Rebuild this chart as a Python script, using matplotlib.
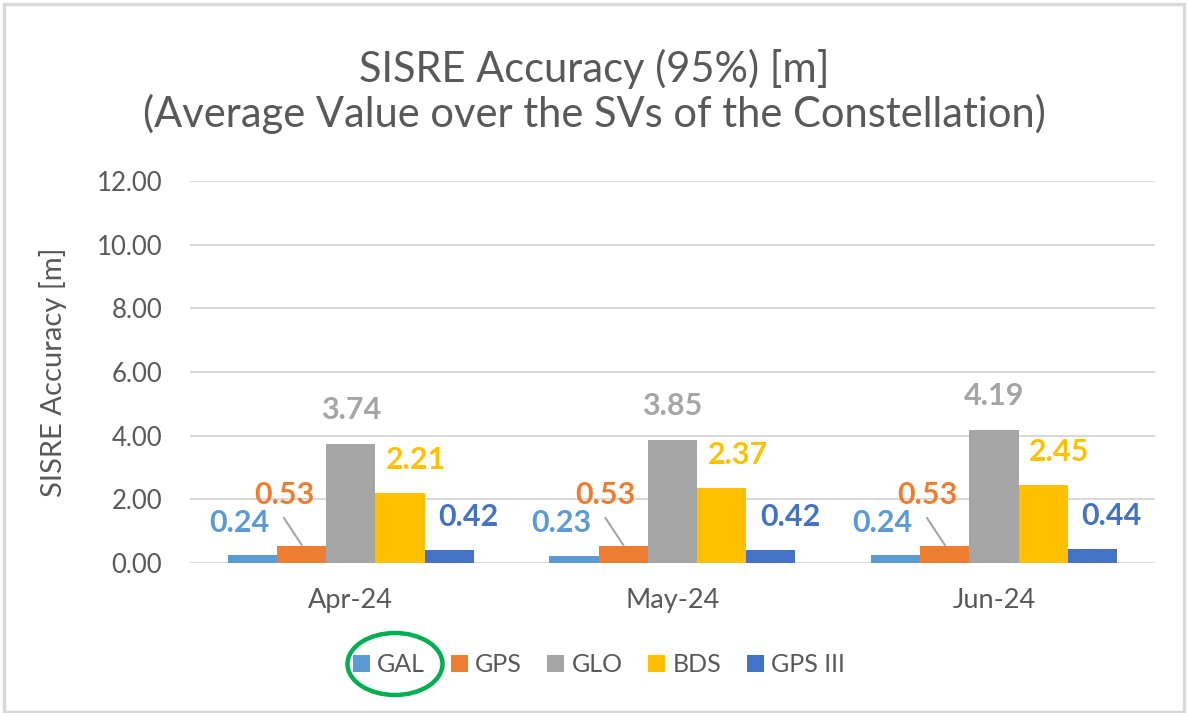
import matplotlib.pyplot as plt
import numpy as np
from matplotlib.patches import Ellipse, Rectangle

meses = ['Apr-24', 'May-24', 'Jun-24']
series = ['GAL', 'GPS', 'GLO', 'BDS', 'GPS III']
gal = [0.24, 0.23, 0.24]
gps = [0.53, 0.53, 0.53]
glo = [3.74, 3.85, 4.19]
bds = [2.21, 2.37, 2.45]
gps3 = [0.42, 0.42, 0.44]
cores = ['#5B9BD5', '#ED7D31', '#A5A5A5', '#FFC000', '#4472C4']

plt.rcParams['font.family'] = ['Lato', 'DejaVu Sans']

fig = plt.figure(figsize=(11.88, 7.13), dpi=100)
ax = fig.add_axes([0.16, 0.2104, 0.812, 0.5358])

valores = [gal, gps, glo, bds, gps3]
largura = 0.153
x = np.arange(len(meses))
# deslocamento do rotulo (x, y) em relacao ao topo da barra
desloc_rotulo = [(-0.04, 1.02), (-0.055, 1.61), (0.0, 1.07), (0.05, 1.03), (0.06, 1.03)]

for i, (nome, vals, cor) in enumerate(zip(series, valores, cores)):
    pos = x + (i - 2) * largura
    ax.bar(pos, vals, width=largura, color=cor, label=nome, zorder=3)
    dx, dy = desloc_rotulo[i]
    for p, v in zip(pos, vals):
        ax.text(p + dx, v + dy, f'{v:.2f}', color=cor, fontsize=22, fontweight='bold',
                ha='center', va='center', zorder=4)
        if nome == 'GPS':
            ax.plot([p + dx, p], [v + 0.88, v + 0.04], color='#A6A6A6', lw=1.5, zorder=4)

ax.set_xlim(-0.5, 2.5)
ax.set_ylim(0, 12)
ax.set_yticks(np.arange(0, 13, 2))
ax.set_yticklabels([f'{t:.2f}' for t in np.arange(0, 13, 2)])
ax.set_xticks(x)
ax.set_xticklabels(meses)
ax.tick_params(axis='both', length=0, labelcolor='#595959')
ax.tick_params(axis='y', pad=20, labelsize=18.5)
ax.tick_params(axis='x', pad=18, labelsize=19.5)
ax.grid(axis='y', color='#D9D9D9', lw=1.5, zorder=0)
for s in ax.spines.values():
    s.set_visible(False)
ax.set_ylabel('SISRE Accuracy [m]', fontsize=21, color='#595959')
ax.yaxis.set_label_coords(-0.1275, 0.5)

fig.text(0.5, 0.872, 'SISRE Accuracy (95%) [m]\n(Average Value over the SVs of the Constellation)',
         ha='center', va='center', fontsize=30, color='#595959', linespacing=1.15)

leg = fig.legend(loc='center', bbox_to_anchor=(0.504, 0.068), ncol=5, frameon=False,
                 fontsize=18, handlelength=0.68, handleheight=0.68, handletextpad=0.28,
                 columnspacing=1.04)
for t in leg.get_texts():
    t.set_color('#595959')

fig.add_artist(Ellipse((395 / 1188, 1 - 664 / 713), 95 / 1188, 62 / 713,
                       transform=fig.transFigure, fill=False, edgecolor='#00B050', lw=3.2))
fig.add_artist(Rectangle((0.003, 0.002), 0.994, 0.993, transform=fig.transFigure,
                         fill=False, edgecolor='#D9D9D9', lw=2.5))

plt.savefig('out.png', dpi=100)
